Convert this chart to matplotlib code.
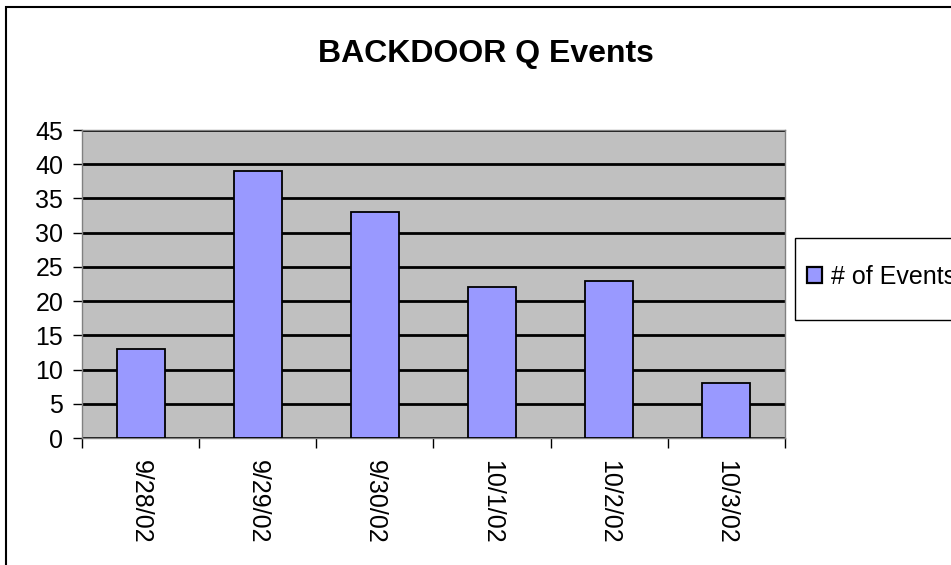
import matplotlib
matplotlib.use("Agg")
import matplotlib.pyplot as plt
from matplotlib.patches import Rectangle
import numpy as np

plt.rcParams['font.family'] = ['Liberation Sans', 'DejaVu Sans']

dates = ["9/28/02", "9/29/02", "9/30/02", "10/1/02", "10/2/02", "10/3/02"]
events = [13, 39, 33, 22, 23, 8]
series_name = "# of Events"
title = "BACKDOOR Q Events"

W, H = 951, 565
fig = plt.figure(figsize=(W / 100, H / 100), dpi=100)
fig.patch.set_facecolor("white")

# outer chart border (runs off the right and bottom edges)
fig.patches.append(Rectangle((6 / W, -0.05), 1.1, (H - 7) / H + 0.05,
                             transform=fig.transFigure, fill=False,
                             edgecolor="black", linewidth=1.5))

left, right, top, bottom = 82, 785, 130, 438
ax = fig.add_axes([left / W, 1 - bottom / H, (right - left) / W, (bottom - top) / H])
ax.set_facecolor("#c0c0c0")

x = np.arange(len(dates))
bars = ax.bar(x, events, width=0.41, color="#9999ff", edgecolor="black",
              linewidth=1.3, zorder=3, label=series_name)

ax.set_xlim(-0.5, len(dates) - 0.5)
ax.set_ylim(0, 45)
ax.set_yticks(np.arange(0, 46, 5))
ax.yaxis.grid(True, color="black", linewidth=2, zorder=1)
ax.set_axisbelow(True)

ax.set_xticks(x)
ax.set_xticklabels(dates, rotation=270, fontsize=18)
ax.tick_params(axis="x", length=0, pad=16)
ax.set_xticks(np.arange(-0.5, len(dates), 1), minor=True)
ax.tick_params(axis="x", which="minor", length=7, color="black", width=1)
ax.tick_params(axis="y", length=6.5, width=1, labelsize=18, pad=7)

for s in ["top", "right", "left", "bottom"]:
    ax.spines[s].set_color("#808080")
    ax.spines[s].set_linewidth(1)

fig.text(486 / W, 1 - 54 / H, title, ha="center", va="center",
         fontsize=23, fontweight="bold")

# legend box
fig.patches.append(Rectangle((795 / W, 1 - 320 / H), 0.2, 82 / H,
                             transform=fig.transFigure, facecolor="white",
                             edgecolor="black", linewidth=1))
leg = fig.legend(handles=[bars], labels=[series_name], loc="center left",
                 bbox_to_anchor=(807 / W, 1 - 277 / H), frameon=False, fontsize=18,
                 handlelength=0.6, handleheight=0.6, handletextpad=0.35,
                 borderaxespad=0, borderpad=0)
for h in leg.legend_handles:
    h.set_linewidth(1.6)

fig.savefig("out.png", dpi=100)
